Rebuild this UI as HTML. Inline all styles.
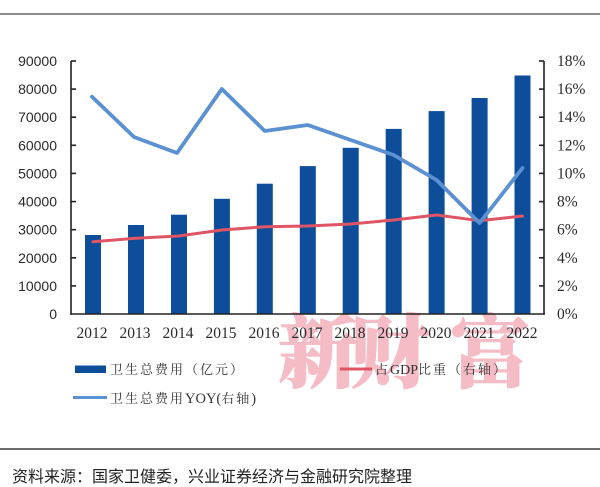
<!DOCTYPE html>
<html>
<head>
<meta charset="utf-8">
<style>
html,body{margin:0;padding:0;background:#fff;}
body{width:600px;height:487px;overflow:hidden;}
svg{display:block;}
</style>
</head>
<body>
<svg width="600" height="487" viewBox="0 0 600 487" xmlns="http://www.w3.org/2000/svg">
  <rect x="0" y="0" width="600" height="487" fill="#fff"/>
  <!-- top rule -->
  <rect x="0" y="13" width="600" height="2" fill="#8a8a8a"/>

  <!-- watermark -->
  <g font-family="'Noto Serif CJK SC','Noto Sans CJK SC',serif" font-weight="900" font-size="80" fill="#f5bcc6" stroke="#f5bcc6" stroke-width="1" stroke-linejoin="round" text-anchor="middle">
    <text x="318" y="381">新</text>
    <text x="390" y="381">财</text>
    <text x="490" y="381">富</text>
  </g>

  <!-- bars -->
  <g fill="#0e4d9a">
    <rect x="85" y="235" width="16" height="79"/>
    <rect x="128" y="225" width="16" height="89"/>
    <rect x="171" y="214.7" width="16" height="99.3"/>
    <rect x="213.9" y="198.8" width="16" height="115.2"/>
    <rect x="256.8" y="183.7" width="16" height="130.3"/>
    <rect x="299.8" y="166.1" width="16" height="147.9"/>
    <rect x="342.7" y="147.8" width="16" height="166.2"/>
    <rect x="385.7" y="128.9" width="16" height="185.1"/>
    <rect x="428.6" y="111.1" width="16" height="202.9"/>
    <rect x="471.6" y="98" width="16" height="216"/>
    <rect x="514.5" y="75.5" width="16" height="238.5"/>
  </g>

  <!-- axes -->
  <g stroke="#222" stroke-width="1.6" fill="none">
    <line x1="71" y1="61" x2="71" y2="314.8"/>
    <line x1="544" y1="61" x2="544" y2="314.8"/>
    <line x1="70.2" y1="314" x2="544.8" y2="314"/>
    <line x1="71" y1="61" x2="76" y2="61"/>
    <line x1="71" y1="89.1" x2="76" y2="89.1"/>
    <line x1="71" y1="117.2" x2="76" y2="117.2"/>
    <line x1="71" y1="145.3" x2="76" y2="145.3"/>
    <line x1="71" y1="173.4" x2="76" y2="173.4"/>
    <line x1="71" y1="201.6" x2="76" y2="201.6"/>
    <line x1="71" y1="229.7" x2="76" y2="229.7"/>
    <line x1="71" y1="257.8" x2="76" y2="257.8"/>
    <line x1="71" y1="285.9" x2="76" y2="285.9"/>
    <line x1="539" y1="61" x2="544" y2="61"/>
    <line x1="539" y1="89.1" x2="544" y2="89.1"/>
    <line x1="539" y1="117.2" x2="544" y2="117.2"/>
    <line x1="539" y1="145.3" x2="544" y2="145.3"/>
    <line x1="539" y1="173.4" x2="544" y2="173.4"/>
    <line x1="539" y1="201.6" x2="544" y2="201.6"/>
    <line x1="539" y1="229.7" x2="544" y2="229.7"/>
    <line x1="539" y1="257.8" x2="544" y2="257.8"/>
    <line x1="539" y1="285.9" x2="544" y2="285.9"/>
  </g>

  <!-- red GDP share line -->
  <polyline fill="none" stroke="#e05565" stroke-width="3" stroke-linejoin="round" stroke-linecap="round"
    points="93,241.7 135.95,238.3 178.9,236 221.85,230 264.8,226.7 307.75,226 350.7,224 393.65,220 436.6,215 479.55,220.7 522.5,216"/>

  <!-- blue YOY line -->
  <polyline fill="none" stroke="#5b91d2" stroke-width="3.8" stroke-linejoin="round" stroke-linecap="round"
    points="92,96.7 134,137 177,153 221.85,89 264.8,131 307.75,125 350.7,140 393.65,155 436.6,180 479.55,223 522.5,168"/>

  <!-- left axis labels -->
  <g font-family="'Liberation Sans',sans-serif" font-size="14" fill="#2a2a2a" text-anchor="end">
    <text x="57" y="66">90000</text>
    <text x="57" y="94.1">80000</text>
    <text x="57" y="122.2">70000</text>
    <text x="57" y="150.3">60000</text>
    <text x="57" y="178.4">50000</text>
    <text x="57" y="206.6">40000</text>
    <text x="57" y="234.7">30000</text>
    <text x="57" y="262.8">20000</text>
    <text x="57" y="290.9">10000</text>
    <text x="57" y="319">0</text>
  </g>

  <!-- right axis labels -->
  <g font-family="'Liberation Serif',serif" font-size="15.5" fill="#2a2a2a">
    <text x="557" y="66">18%</text>
    <text x="557" y="94.1">16%</text>
    <text x="557" y="122.2">14%</text>
    <text x="557" y="150.3">12%</text>
    <text x="557" y="178.4">10%</text>
    <text x="557" y="206.6">8%</text>
    <text x="557" y="234.7">6%</text>
    <text x="557" y="262.8">4%</text>
    <text x="557" y="290.9">2%</text>
    <text x="557" y="319">0%</text>
  </g>

  <!-- x labels -->
  <g font-family="'Liberation Serif',serif" font-size="15.5" fill="#2a2a2a" text-anchor="middle">
    <text x="92" y="338">2012</text>
    <text x="135" y="338">2013</text>
    <text x="178" y="338">2014</text>
    <text x="221" y="338">2015</text>
    <text x="264" y="338">2016</text>
    <text x="307" y="338">2017</text>
    <text x="350" y="338">2018</text>
    <text x="393" y="338">2019</text>
    <text x="436" y="338">2020</text>
    <text x="479" y="338">2021</text>
    <text x="522" y="338">2022</text>
  </g>

  <!-- legend -->
  <rect x="75" y="365.5" width="31" height="7.5" fill="#0e4d9a"/>
  <text x="110" y="374" font-family="'Liberation Serif','Noto Serif CJK SC',serif" font-size="13" letter-spacing="2" fill="#333">卫生总费用（亿元）</text>

  <line x1="340" y1="369" x2="372" y2="369" stroke="#e05565" stroke-width="3"/>
  <text x="375" y="374" font-family="'Liberation Serif','Noto Serif CJK SC',serif" font-size="13" fill="#333"><tspan letter-spacing="2">占</tspan><tspan font-size="14">GDP</tspan><tspan letter-spacing="2">比重（右轴）</tspan></text>

  <line x1="73" y1="397.5" x2="107" y2="397.5" stroke="#5b91d2" stroke-width="3"/>
  <text x="110" y="403" font-family="'Liberation Serif','Noto Serif CJK SC',serif" font-size="13" fill="#333"><tspan letter-spacing="2">卫生总费用</tspan><tspan font-size="14.5">YOY(</tspan><tspan letter-spacing="2">右轴</tspan><tspan font-size="14.5">)</tspan></text>

  <!-- footer -->
  <rect x="0" y="448" width="600" height="2" fill="#6a6a6a"/>
  <text x="12" y="482" font-family="'Liberation Sans','Noto Sans CJK SC',sans-serif" font-size="16" fill="#222">资料来源：国家卫健委，兴业证券经济与金融研究院整理</text>
</svg>
</body>
</html>
